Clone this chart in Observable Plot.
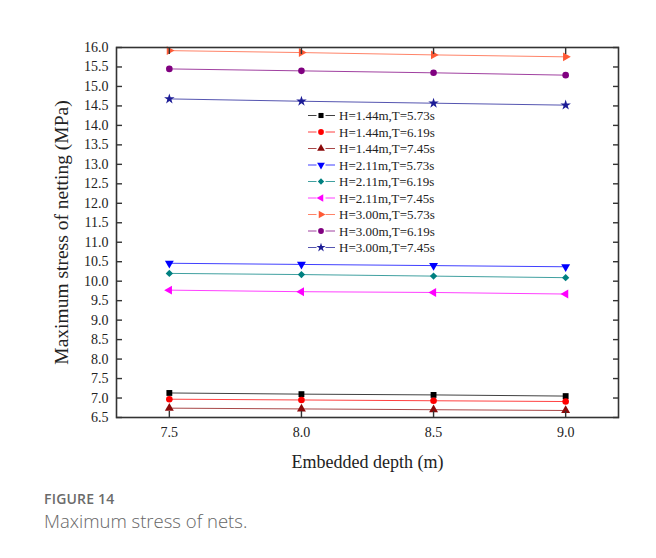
<!DOCTYPE html>
<html>
<head>
<meta charset="utf-8">
<script src="https://cdn.jsdelivr.net/npm/d3@7"></script>
<script src="https://cdn.jsdelivr.net/npm/@observablehq/plot@0.6"></script>
<style>
  body { margin: 0; background: #fff; }
  #wrap { position: relative; width: 656px; height: 558px; overflow: hidden; }
  #chart svg { display: block; }
  #cap { position: absolute; left: 44px; top: 489px; font-family: "Open Sans", sans-serif; color: #6b6b6b; }
  #cap .fig { font-size: 14px; font-weight: 600; letter-spacing: 0.2px; }
  #cap .title { font-size: 18.5px; font-weight: 300; margin-top: 0px; color: #666; }
  g[aria-label="x-axis label"] text { font-size: 18px; }
  g[aria-label="y-axis label"] text { font-size: 19.5px; }
</style>
</head>
<body>
<div id="wrap">
  <div id="chart"></div>
  <div id="cap">
    <div class="fig">FIGURE 14</div>
    <div class="title">Maximum stress of nets.</div>
  </div>
</div>
<script>
// Embedded depth (m) on the x axis
const depths = [7.5, 8.0, 8.5, 9.0];
const xTicks = [7.5, 8.0, 8.5, 9.0];
const yTicks = [6.5, 7.0, 7.5, 8.0, 8.5, 9.0, 9.5, 10.0, 10.5, 11.0, 11.5, 12.0, 12.5, 13.0, 13.5, 14.0, 14.5, 15.0, 15.5, 16.0];

// Wave conditions
const seriesNames = [
  "H=1.44m,T=5.73s", "H=1.44m,T=6.19s", "H=1.44m,T=7.45s",
  "H=2.11m,T=5.73s", "H=2.11m,T=6.19s", "H=2.11m,T=7.45s",
  "H=3.00m,T=5.73s", "H=3.00m,T=6.19s", "H=3.00m,T=7.45s"
];

// Maximum stress of netting (MPa) for each condition, at each depth
const h144t573 = [7.13, 7.10, 7.08, 7.05];
const h144t619 = [6.97, 6.95, 6.93, 6.91];
const h144t745 = [6.74, 6.72, 6.70, 6.68];
const h211t573 = [10.46, 10.43, 10.40, 10.37];
const h211t619 = [10.20, 10.17, 10.13, 10.09];
const h211t745 = [9.77, 9.73, 9.71, 9.67];
const h300t573 = [15.92, 15.87, 15.81, 15.76];
const h300t619 = [15.45, 15.40, 15.35, 15.29];
const h300t745 = [14.68, 14.62, 14.57, 14.52];

const seriesValues = [h144t573, h144t619, h144t745, h211t573, h211t619, h211t745, h300t573, h300t619, h300t745];
const seriesColors = ["#000000", "#ff0000", "#8b0a0a", "#0000ff", "#008080", "#ff00ff", "#ff5a36", "#800080", "#1c1c96"];

// Equilateral triangle marker pointing in a given direction
function pointedTriangle(angle) {
  return {
    draw(ctx, size) {
      const side = Math.sqrt(size * 4 / Math.sqrt(3));
      const R = side / Math.sqrt(3);
      for (let i = 0; i < 3; i++) {
        const t = angle + i * 2 * Math.PI / 3;
        const px = R * Math.cos(t), py = R * Math.sin(t);
        if (i === 0) ctx.moveTo(px, py); else ctx.lineTo(px, py);
      }
      ctx.closePath();
    }
  };
}
const triUp = pointedTriangle(-Math.PI / 2);
const triDown = pointedTriangle(Math.PI / 2);
const triLeft = pointedTriangle(Math.PI);
const triRight = pointedTriangle(0);
const seriesSymbols = [d3.symbolSquare, d3.symbolCircle, triUp, triDown, d3.symbolDiamond2, triLeft, triRight, d3.symbolCircle, d3.symbolStar];

const rows = seriesNames.flatMap((name, i) =>
  depths.map((d, j) => ({series: name, depth: d, stress: seriesValues[i][j]}))
);

const seriesMarks = seriesNames.flatMap((name, i) => {
  const data = rows.filter(r => r.series === name);
  return [
    Plot.line(data, {x: "depth", y: "stress", stroke: seriesColors[i], strokeWidth: 1, strokeOpacity: 0.75}),
    Plot.dot(data, {x: "depth", y: "stress", symbol: seriesSymbols[i], fill: seriesColors[i], stroke: "none", r: 3.3})
  ];
});

const fmt = d => d.toFixed(1);

const chart = Plot.plot({
  width: 656,
  height: 480,
  marginLeft: 116,
  marginRight: 38,
  marginTop: 47,
  marginBottom: 63,
  style: {fontFamily: "'Liberation Serif', 'Times New Roman', serif", fontSize: "14px", color: "#222", background: "#fff"},
  x: {domain: [7.3, 9.2]},
  y: {domain: [6.5, 16.0]},
  marks: [
    ...seriesMarks,
    Plot.frame({stroke: "#333", strokeWidth: 1.6}),
    Plot.axisX({anchor: "bottom", ticks: xTicks, tickFormat: fmt, tickSize: -6, tickPadding: 16, stroke: "#333", strokeWidth: 1.4,
      label: "Embedded depth (m)", labelAnchor: "center", labelArrow: "none", labelOffset: 50}),
    Plot.axisX({anchor: "top", ticks: xTicks, tickFormat: () => "", tickSize: -6, stroke: "#333", strokeWidth: 1.4, label: null}),
    Plot.axisY({anchor: "left", ticks: yTicks, tickFormat: fmt, tickSize: -6, tickPadding: 14, stroke: "#333", strokeWidth: 1.4,
      label: "Maximum stress of netting (MPa)", labelAnchor: "center", labelArrow: "none", labelOffset: 62}),
    Plot.axisY({anchor: "right", ticks: yTicks, tickFormat: () => "", tickSize: -6, stroke: "#333", strokeWidth: 1.4, label: null})
  ]
});

document.getElementById("chart").appendChild(chart);

// Legend inside the plotting area
const svg = d3.select(chart);
const legend = svg.append("g").attr("class", "legend")
  .attr("font-family", "'Liberation Serif', 'Times New Roman', serif").attr("font-size", 13)
  .attr("text-anchor", "start");
seriesNames.forEach((name, i) => {
  const y = 115.5 + i * 16.5;
  const g = legend.append("g").attr("transform", `translate(0,${y})`);
  g.append("line").attr("x1", 308).attr("x2", 316.5).attr("y1", 0).attr("y2", 0)
    .attr("stroke", seriesColors[i]).attr("stroke-opacity", 0.75);
  g.append("line").attr("x1", 325.5).attr("x2", 335).attr("y1", 0).attr("y2", 0)
    .attr("stroke", seriesColors[i]).attr("stroke-opacity", 0.75);
  g.append("path").attr("transform", "translate(321,0)")
    .attr("d", d3.symbol().type(seriesSymbols[i]).size(26)())
    .attr("fill", seriesColors[i]);
  g.append("text").attr("x", 339).attr("y", 0).attr("dy", "0.35em").attr("text-anchor", "start")
    .attr("fill", "#222").text(name);
});
</script>
</body>
</html>
